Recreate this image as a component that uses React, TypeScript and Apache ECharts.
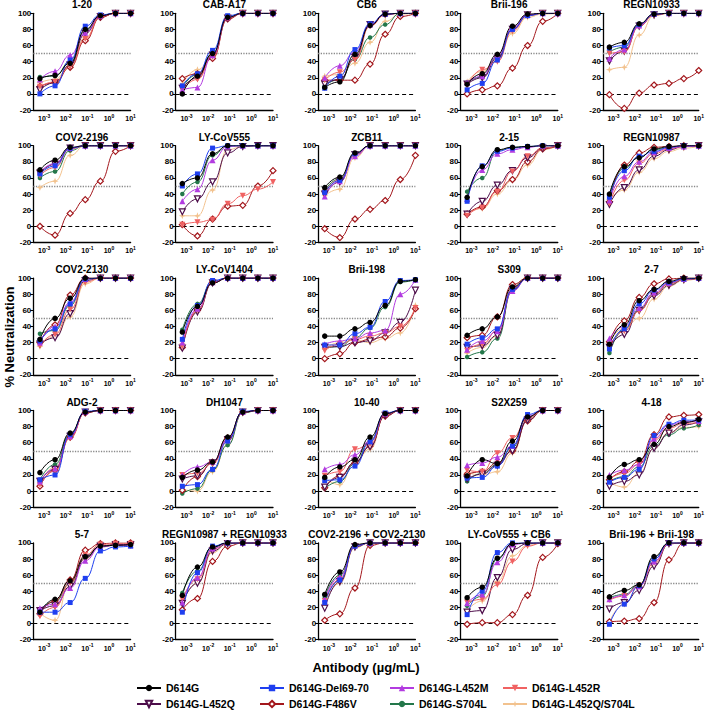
import React, { useEffect, useRef } from 'react';
import * as echarts from 'echarts';

// Antibody concentrations (µg/mL), 5-fold dilutions
const CONC = [0.00064, 0.0032, 0.016, 0.08, 0.4, 2, 10];

const VARIANTS = [
  'D614G',
  'D614G-Del69-70',
  'D614G-L452M',
  'D614G-L452R',
  'D614G-L452Q',
  'D614G-F486V',
  'D614G-S704L',
  'D614G-L452Q/S704L',
];

const COLORS = ['#000000', '#1f3ff0', '#b23be0', '#f06262', '#4d0d4a', '#a3171c', '#23774a', '#f2c28e'];

const TITLES = [
  '1-20', 'CAB-A17', 'CB6', 'Brii-196', 'REGN10933',
  'COV2-2196', 'LY-CoV555', 'ZCB11', '2-15', 'REGN10987',
  'COV2-2130', 'LY-CoV1404', 'Brii-198', 'S309', '2-7',
  'ADG-2', 'DH1047', '10-40', 'S2X259', '4-18',
  '5-7', 'REGN10987 + REGN10933', 'COV2-2196 + COV2-2130', 'LY-CoV555 + CB6', 'Brii-196 + Brii-198',
];

// % neutralization per variant (order of VARIANTS) at each CONC
const N_1_20 = [
  [19, 23, 38, 80, 97, 100, 100],
  [0, 10, 42, 84, 98, 100, 100],
  [18, 28, 48, 76, 97, 100, 100],
  [9, 15, 34, 68, 96, 100, 100],
  [5, 14, 36, 75, 96, 100, 100],
  [9, 14, 33, 66, 95, 100, 100],
  [21, 22, 40, 78, 97, 100, 100],
  [14, 18, 36, 70, 95, 100, 100],
];
const N_CAB_A17 = [
  [0, 22, 50, 95, 100, 100, 100],
  [10, 25, 54, 97, 100, 100, 100],
  [5, 8, 48, 95, 100, 100, 100],
  [5, 18, 46, 94, 100, 100, 100],
  [7, 20, 48, 94, 100, 100, 100],
  [19, 25, 44, 93, 100, 100, 100],
  [8, 24, 50, 96, 100, 100, 100],
  [12, 30, 45, 93, 100, 100, 100],
];
const N_CB6 = [
  [8, 15, 49, 85, 99, 100, 100],
  [7, 22, 55, 87, 99, 100, 100],
  [20, 35, 52, 86, 99, 100, 100],
  [17, 27, 42, 84, 98, 100, 100],
  [12, 18, 45, 86, 99, 100, 100],
  [17, 17, 17, 37, 74, 96, 100],
  [10, 18, 43, 70, 86, 100, 100],
  [22, 24, 38, 64, 90, 99, 100],
];
const N_BRII_196 = [
  [12, 25, 49, 84, 99, 100, 100],
  [5, 13, 42, 80, 97, 100, 100],
  [14, 22, 47, 82, 98, 100, 100],
  [10, 30, 40, 78, 97, 100, 100],
  [12, 20, 44, 80, 98, 100, 100],
  [0, 5, 10, 32, 60, 90, 100],
  [14, 21, 46, 80, 97, 100, 100],
  [15, 28, 43, 75, 95, 99, 100],
];
const N_REGN10933 = [
  [58, 64, 87, 99, 100, 100, 100],
  [57, 60, 86, 99, 100, 100, 100],
  [44, 55, 85, 99, 100, 100, 100],
  [50, 52, 84, 98, 100, 100, 100],
  [41, 53, 84, 98, 100, 100, 100],
  [-1, -18, 1, 11, 13, 19, 29],
  [52, 58, 86, 99, 100, 100, 100],
  [30, 33, 73, 97, 100, 100, 100],
];
const N_COV2_2196 = [
  [70, 82, 98, 100, 100, 100, 100],
  [65, 75, 97, 100, 100, 100, 100],
  [67, 78, 97, 100, 100, 100, 100],
  [63, 73, 96, 100, 100, 100, 100],
  [66, 77, 97, 100, 100, 100, 100],
  [0, -11, 16, 33, 56, 93, 100],
  [60, 68, 94, 100, 100, 100, 100],
  [48, 56, 88, 100, 100, 100, 100],
];
const N_LY_COV555 = [
  [53, 60, 90, 100, 100, 100, 100],
  [50, 65, 97, 100, 100, 100, 100],
  [31, 46, 82, 99, 100, 100, 100],
  [2, 5, 8, 28, 38, 46, 55],
  [18, 34, 55, 91, 99, 100, 100],
  [2, -12, 9, 25, 26, 50, 69],
  [40, 55, 88, 100, 100, 100, 100],
  [13, 13, 45, 95, 99, 100, 100],
];
const N_ZCB11 = [
  [48, 61, 91, 100, 100, 100, 100],
  [42, 57, 90, 100, 100, 100, 100],
  [37, 56, 87, 100, 100, 100, 100],
  [42, 58, 89, 100, 100, 100, 100],
  [40, 55, 89, 100, 100, 100, 100],
  [-3, -14, 9, 21, 32, 58, 88],
  [45, 59, 90, 100, 100, 100, 100],
  [38, 46, 85, 100, 100, 100, 100],
];
const N_2_15 = [
  [36, 74, 95, 98, 99, 100, 100],
  [31, 75, 93, 97, 99, 100, 100],
  [34, 70, 90, 95, 98, 100, 100],
  [13, 23, 43, 68, 87, 97, 100],
  [15, 31, 51, 69, 85, 97, 100],
  [15, 24, 44, 58, 80, 96, 100],
  [43, 60, 94, 98, 99, 100, 100],
  [16, 22, 40, 57, 76, 95, 100],
];
const N_REGN10987 = [
  [40, 74, 85, 96, 99, 100, 100],
  [36, 69, 87, 93, 98, 100, 100],
  [32, 62, 80, 92, 97, 99, 100],
  [28, 57, 78, 90, 96, 99, 100],
  [27, 48, 70, 87, 95, 99, 100],
  [30, 76, 91, 98, 99, 100, 100],
  [38, 72, 86, 95, 98, 100, 100],
  [33, 45, 67, 84, 93, 97, 99],
];
const N_COV2_2130 = [
  [24, 50, 75, 100, 100, 100, 100],
  [22, 37, 68, 99, 100, 100, 100],
  [20, 40, 70, 99, 100, 100, 100],
  [16, 30, 61, 95, 100, 100, 100],
  [18, 26, 56, 97, 100, 100, 100],
  [20, 42, 79, 100, 100, 100, 100],
  [31, 35, 66, 99, 100, 100, 100],
  [15, 28, 52, 93, 100, 100, 100],
];
const N_LY_COV1404 = [
  [33, 65, 94, 100, 100, 100, 100],
  [24, 66, 97, 100, 100, 100, 100],
  [20, 62, 95, 100, 100, 100, 100],
  [15, 60, 95, 100, 100, 100, 100],
  [13, 58, 94, 100, 100, 100, 100],
  [14, 60, 95, 100, 100, 100, 100],
  [36, 68, 96, 100, 100, 100, 100],
  [17, 58, 94, 100, 100, 100, 100],
];
const N_BRII_198 = [
  [28, 28, 37, 45, 66, 96, 98],
  [17, 17, 31, 39, 71, 97, 98],
  [18, 22, 25, 32, 35, 80, 98],
  [10, 18, 24, 28, 32, 40, 63],
  [14, 15, 20, 22, 32, 45, 85],
  [0, 6, 20, 24, 27, 38, 62],
  [13, 15, 26, 38, 64, 95, 98],
  [12, 20, 23, 20, 25, 32, 66],
];
const N_S309 = [
  [29, 37, 52, 89, 100, 100, 100],
  [18, 26, 37, 86, 100, 100, 100],
  [11, 22, 34, 84, 100, 100, 100],
  [10, 18, 35, 88, 100, 100, 100],
  [14, 16, 29, 86, 100, 100, 100],
  [26, 29, 52, 92, 100, 100, 100],
  [2, 8, 25, 85, 100, 100, 100],
  [7, 14, 28, 84, 100, 100, 100],
];
const N_2_7 = [
  [18, 42, 72, 86, 96, 100, 100],
  [12, 37, 68, 85, 95, 99, 100],
  [25, 40, 63, 82, 94, 99, 100],
  [16, 34, 59, 80, 93, 98, 100],
  [14, 30, 60, 78, 91, 98, 100],
  [21, 47, 76, 93, 99, 100, 100],
  [7, 36, 61, 80, 93, 98, 100],
  [20, 38, 50, 74, 90, 97, 100],
];
const N_ADG_2 = [
  [23, 39, 72, 98, 100, 100, 100],
  [14, 20, 70, 99, 100, 100, 100],
  [12, 28, 68, 98, 100, 100, 100],
  [8, 25, 66, 98, 100, 100, 100],
  [12, 27, 68, 98, 100, 100, 100],
  [6, 26, 67, 97, 100, 100, 100],
  [14, 33, 71, 98, 100, 100, 100],
  [10, 30, 66, 97, 100, 100, 100],
];
const N_DH1047 = [
  [17, 26, 36, 67, 98, 100, 100],
  [6, 8, 27, 62, 99, 100, 100],
  [20, 30, 36, 64, 98, 100, 100],
  [20, 22, 34, 62, 98, 100, 100],
  [15, 19, 35, 64, 98, 100, 100],
  [1, 18, 36, 66, 98, 100, 100],
  [-3, 3, 26, 57, 97, 100, 100],
  [2, 0, 24, 58, 97, 100, 100],
];
const N_10_40 = [
  [17, 30, 39, 67, 96, 100, 100],
  [13, 14, 31, 61, 97, 100, 100],
  [27, 33, 45, 62, 96, 100, 100],
  [19, 24, 52, 58, 95, 100, 100],
  [5, 17, 36, 55, 94, 100, 100],
  [4, 19, 35, 56, 93, 100, 100],
  [3, 12, 34, 63, 96, 100, 100],
  [16, 8, 36, 52, 94, 100, 100],
];
const N_S2X259 = [
  [19, 39, 34, 62, 92, 100, 100],
  [16, 17, 31, 56, 95, 100, 100],
  [32, 35, 42, 56, 93, 100, 100],
  [26, 24, 47, 66, 90, 100, 100],
  [15, 21, 32, 50, 88, 100, 100],
  [21, 24, 35, 50, 87, 100, 100],
  [12, 22, 33, 54, 92, 100, 100],
  [23, 20, 24, 47, 88, 100, 100],
];
const N_4_18 = [
  [17, 33, 39, 58, 80, 85, 89],
  [11, 17, 27, 69, 83, 88, 88],
  [20, 26, 33, 65, 82, 86, 87],
  [15, 22, 33, 63, 78, 84, 85],
  [6, 12, 20, 53, 72, 82, 86],
  [14, 24, 37, 70, 92, 94, 95],
  [12, 18, 30, 56, 70, 78, 82],
  [11, 5, 22, 53, 73, 79, 80],
];
const N_5_7 = [
  [14, 30, 53, 83, 96, 97, 98],
  [14, 14, 26, 56, 90, 95, 96],
  [19, 24, 44, 78, 95, 97, 97],
  [9, 20, 50, 85, 98, 99, 99],
  [16, 22, 46, 81, 96, 98, 98],
  [12, 28, 54, 91, 99, 100, 100],
  [17, 27, 50, 82, 96, 97, 97],
  [13, 4, 52, 80, 95, 97, 97],
];
const N_REGN_COMBO = [
  [35, 70, 95, 100, 100, 100, 100],
  [14, 63, 96, 100, 100, 100, 100],
  [26, 57, 93, 100, 100, 100, 100],
  [30, 55, 92, 100, 100, 100, 100],
  [25, 50, 90, 99, 100, 100, 100],
  [17, 31, 77, 96, 100, 100, 100],
  [38, 65, 95, 100, 100, 100, 100],
  [28, 50, 88, 99, 100, 100, 100],
];
const N_COV2_COMBO = [
  [36, 64, 98, 100, 100, 100, 100],
  [26, 54, 96, 100, 100, 100, 100],
  [30, 58, 97, 100, 100, 100, 100],
  [28, 55, 96, 100, 100, 100, 100],
  [19, 52, 95, 100, 100, 100, 100],
  [4, 12, 44, 97, 100, 100, 100],
  [33, 60, 97, 100, 100, 100, 100],
  [25, 50, 94, 100, 100, 100, 100],
];
const N_LY_CB6_COMBO = [
  [32, 45, 81, 99, 100, 100, 100],
  [11, 40, 88, 100, 100, 100, 100],
  [25, 36, 76, 98, 100, 100, 100],
  [26, 30, 48, 77, 96, 100, 100],
  [14, 16, 57, 92, 99, 100, 100],
  [-1, 1, 1, 11, 35, 82, 99],
  [22, 34, 80, 99, 100, 100, 100],
  [16, 28, 52, 84, 97, 100, 100],
];
const N_BRII_COMBO = [
  [33, 41, 48, 83, 100, 100, 100],
  [-1, 24, 47, 80, 100, 100, 100],
  [30, 35, 46, 77, 100, 100, 100],
  [29, 34, 47, 75, 99, 100, 100],
  [18, 26, 41, 71, 99, 100, 100],
  [2, 3, 6, 26, 79, 100, 100],
  [32, 36, 48, 80, 100, 100, 100],
  [2, 24, 46, 72, 99, 100, 100],
];

const PANELS = [
  N_1_20, N_CAB_A17, N_CB6, N_BRII_196, N_REGN10933,
  N_COV2_2196, N_LY_COV555, N_ZCB11, N_2_15, N_REGN10987,
  N_COV2_2130, N_LY_COV1404, N_BRII_198, N_S309, N_2_7,
  N_ADG_2, N_DH1047, N_10_40, N_S2X259, N_4_18,
  N_5_7, N_REGN_COMBO, N_COV2_COMBO, N_LY_CB6_COMBO, N_BRII_COMBO,
];

const INV_TRI = 'path://M0,0L10,0L5,8.7Z';
const STAR = 'path://M5,0L6.3,3.7L10,5L6.3,6.3L5,10L3.7,6.3L0,5L3.7,3.7Z';
const SYMBOLS = ['circle', 'rect', 'triangle', INV_TRI, INV_TRI, 'diamond', 'circle', STAR];
const SIZES = [5.5, 5, 6, 6, 6, 6, 4.5, 7];
const HOLLOW = [false, false, false, false, true, true, false, false];

const FONT = '"Liberation Sans", Arial, Helvetica, sans-serif';

export default function App() {
  const ref = useRef<HTMLDivElement>(null);

  useEffect(() => {
    if (!ref.current) return;
    const chart = echarts.init(ref.current, null, { renderer: 'svg' });

    const GW = 97.3;
    const GH = 96.7;
    const grids: any[] = [];
    const xAxes: any[] = [];
    const yAxes: any[] = [];
    const series: any[] = [];
    const graphics: any[] = [];

    PANELS.forEach((panel, i) => {
      const r = Math.floor(i / 5);
      const c = i % 5;
      const left = 33.3 + 142.4 * c;
      const top = 13.3 + 132.4 * r;
      grids.push({ left, top, width: GW, height: GH });
      xAxes.push({
        type: 'log',
        logBase: 10,
        gridIndex: i,
        min: 0.000316,
        max: 10,
        axisLine: { show: true, onZero: false, lineStyle: { color: '#000', width: 1.3 } },
        axisTick: { show: false },
        splitLine: { show: false },
        axisLabel: {
          margin: 3,
          formatter: (v: number) => {
            const e = Math.log10(v);
            const n = Math.round(e);
            if (Math.abs(e - n) > 1e-6) return '';
            return '{b|10}{s|' + n + '}';
          },
          rich: {
            b: { fontSize: 7, fontWeight: 'bold', color: '#000', fontFamily: FONT, verticalAlign: 'bottom', lineHeight: 9 },
            s: { fontSize: 5, fontWeight: 'bold', color: '#000', fontFamily: FONT, verticalAlign: 'top', lineHeight: 9 },
          },
        },
      });
      yAxes.push({
        type: 'value',
        gridIndex: i,
        min: -20,
        max: 100,
        interval: 20,
        axisLine: { show: true, lineStyle: { color: '#000', width: 1.3 } },
        axisTick: { show: true, length: 3, lineStyle: { color: '#000', width: 1 } },
        splitLine: { show: false },
        axisLabel: { fontSize: 8, fontWeight: 'bold', color: '#000', margin: 2, fontFamily: FONT },
      });
      graphics.push({
        type: 'text',
        x: left + GW / 2,
        y: top - 8.5,
        style: {
          text: TITLES[i],
          textAlign: 'center',
          textVerticalAlign: 'middle',
          align: 'center',
          verticalAlign: 'middle',
          font: 'bold 10px ' + FONT,
          fill: '#000',
        },
      });
      for (let k = VARIANTS.length - 1; k >= 0; k--) {
        const s: any = {
          type: 'line',
          name: VARIANTS[k],
          xAxisIndex: i,
          yAxisIndex: i,
          data: CONC.map((x, j) => [x, panel[k][j]]),
          smooth: 0.5,
          smoothMonotone: 'x',
          symbol: SYMBOLS[k],
          symbolSize: SIZES[k],
          showSymbol: true,
          silent: true,
          lineStyle: { color: COLORS[k], width: 1 },
          itemStyle: HOLLOW[k]
            ? { color: '#ffffff', borderColor: COLORS[k], borderWidth: 1.2 }
            : { color: COLORS[k] },
        };
        if (k === VARIANTS.length - 1) {
          s.markLine = {
            silent: true,
            symbol: ['none', 'none'],
            label: { show: false },
            z: 1,
            data: [
              { yAxis: 50, lineStyle: { color: '#8a8a8a', type: 'dotted', width: 1.3 } },
              { yAxis: 0, lineStyle: { color: '#000', type: [4, 3], width: 1.2 } },
            ],
          };
        }
        series.push(s);
      }
    });

    graphics.push({
      type: 'text',
      x: 9,
      y: 337,
      rotation: Math.PI / 2,
      style: {
        text: '% Neutralization',
        textAlign: 'center',
        textVerticalAlign: 'middle',
        align: 'center',
        verticalAlign: 'middle',
        font: 'bold 13px ' + FONT,
        fill: '#000',
      },
    });
    graphics.push({
      type: 'text',
      x: 366,
      y: 667,
      style: {
        text: 'Antibody (µg/mL)',
        textAlign: 'center',
        textVerticalAlign: 'middle',
        align: 'center',
        verticalAlign: 'middle',
        font: 'bold 13px ' + FONT,
        fill: '#000',
      },
    });

    const LEG_X = [136, 259, 389, 502];
    const LEG_Y = [682, 698];
    const legends = VARIANTS.map((name, k) => ({
      data: [name],
      left: LEG_X[k % 4],
      top: LEG_Y[Math.floor(k / 4)],
      itemWidth: 24,
      itemHeight: 8,
      itemGap: 0,
      padding: 0,
      selectedMode: false,
      lineStyle: { width: 2 },
      textStyle: { fontSize: 10.5, fontWeight: 'bold', color: '#000', fontFamily: FONT, lineHeight: 12 },
    }));

    chart.setOption({
      animation: false,
      textStyle: { fontFamily: FONT },
      grid: grids,
      xAxis: xAxes,
      yAxis: yAxes,
      series,
      legend: legends,
      graphic: graphics,
    });

    return () => chart.dispose();
  }, []);

  return (
    <div
      ref={ref}
      style={{ position: 'fixed', left: 0, top: 0, width: 707, height: 710, background: '#fff' }}
    />
  );
}
